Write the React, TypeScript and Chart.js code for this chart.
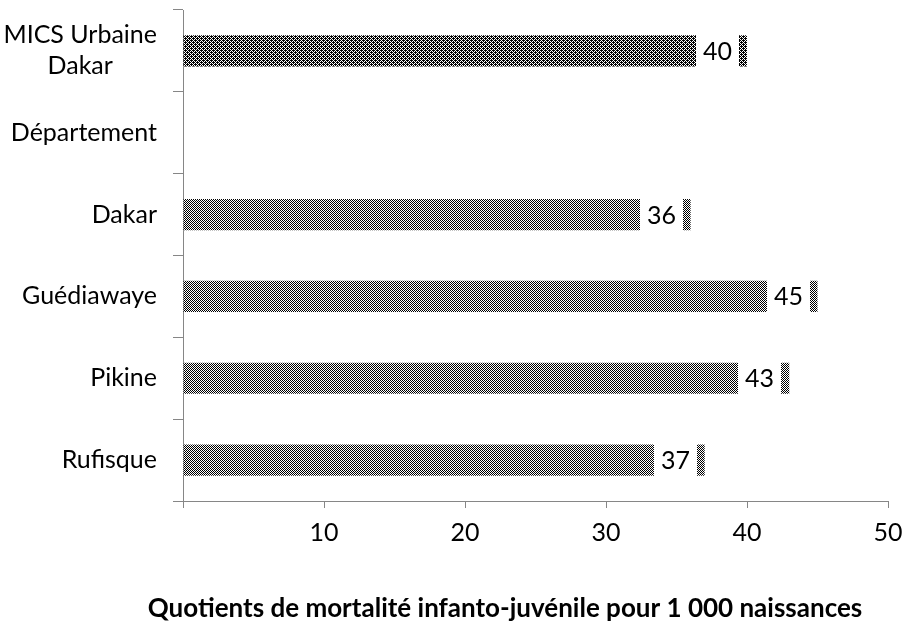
import React, { useEffect, useRef } from 'react';
import { Chart, registerables } from 'chart.js';

Chart.register(...registerables);

const categories: (string | string[])[] = [
  ['MICS Urbaine', 'Dakar'],
  'Département',
  'Dakar',
  'Guédiawaye',
  'Pikine',
  'Rufisque',
];
const values: (number | null)[] = [40, null, 36, 45, 43, 37];
const xMin = 0;
const xMax = 50;
const xStep = 10;
const xTitle = 'Quotients de mortalité infanto-juvénile pour 1 000 naissances';

const FONT = 'Lato';
const FS = 25;
const AXIS = '#868686';

function makePattern(ctx: CanvasRenderingContext2D, tile: number[][]) {
  const c = document.createElement('canvas');
  c.width = tile[0].length;
  c.height = tile.length;
  const g = c.getContext('2d')!;
  g.fillStyle = '#ffffff';
  g.fillRect(0, 0, c.width, c.height);
  g.fillStyle = '#000000';
  tile.forEach((row, yy) =>
    row.forEach((v, xx) => {
      if (v) g.fillRect(xx, yy, 1, 1);
    })
  );
  return ctx.createPattern(c, 'repeat')!;
}

const checker = [
  [1, 0],
  [0, 1],
];
const darkChecker = [
  [1, 0, 1, 1],
  [0, 1, 0, 1],
  [1, 1, 1, 0],
  [0, 1, 0, 1],
];

const yLabelPlugin = {
  id: 'yLabels',
  afterDraw(chart: any) {
    const { ctx, chartArea } = chart;
    const y = chart.scales.y;
    ctx.save();
    ctx.font = `${FS}px ${FONT}`;
    ctx.fillStyle = '#000';
    ctx.textBaseline = 'middle';
    ctx.textAlign = 'center';
    const right = chartArea.left - 26;
    const lh = 31;
    categories.forEach((lab, i) => {
      const lines = Array.isArray(lab) ? lab : [lab];
      const widest = Math.max(...lines.map((l) => ctx.measureText(l).width));
      const cx = right - widest / 2;
      const yc = y.getPixelForValue(i);
      lines.forEach((l, k) => {
        ctx.fillText(l, cx, yc + (k - (lines.length - 1) / 2) * lh);
      });
    });
    ctx.restore();
  },
};

const dataLabelPlugin = {
  id: 'dataLabels',
  afterDatasetsDraw(chart: any) {
    const { ctx } = chart;
    const meta = chart.getDatasetMeta(0);
    ctx.save();
    ctx.font = `${FS}px ${FONT}`;
    ctx.textAlign = 'center';
    ctx.textBaseline = 'middle';
    meta.data.forEach((bar: any, i: number) => {
      const v = values[i];
      if (v == null) return;
      const { x, y, height } = bar.getProps(['x', 'y', 'height'], true);
      const bx = Math.round(x - 51);
      ctx.fillStyle = '#ffffff';
      ctx.fillRect(bx, y - height / 2 - 1, 43, height + 2);
      ctx.fillStyle = '#000000';
      ctx.fillText(String(v), bx + 21.5, y + 1);
    });
    ctx.restore();
  },
};

const titlePlugin = {
  id: 'xTitle',
  afterDraw(chart: any) {
    const { ctx } = chart;
    ctx.save();
    ctx.font = `bold 26px ${FONT}`;
    ctx.fillStyle = '#000';
    ctx.textAlign = 'center';
    ctx.textBaseline = 'middle';
    ctx.fillText(xTitle, 505, 609);
    ctx.restore();
  },
};

export default function App() {
  const ref = useRef<HTMLCanvasElement | null>(null);

  useEffect(() => {
    document.body.style.margin = '0';
    const canvas = ref.current!;
    const ctx = canvas.getContext('2d')!;
    const pLight = makePattern(ctx, checker);
    const pDark = makePattern(ctx, darkChecker);

    const chart = new Chart(canvas, {
      type: 'bar',
      data: {
        labels: categories as any,
        datasets: [
          {
            data: values as any,
            backgroundColor: values.map((_, i) => (i === 0 ? pDark : pLight)) as any,
            borderWidth: 0,
            categoryPercentage: 1,
            barPercentage: 0.38,
          },
        ],
      },
      options: {
        indexAxis: 'y',
        animation: false,
        responsive: false,
        layout: { padding: { top: 10, right: 18, left: 0, bottom: 0 } },
        plugins: {
          legend: { display: false },
          tooltip: { enabled: false },
          title: { display: false },
        },
        scales: {
          x: {
            type: 'linear',
            min: xMin,
            max: xMax,
            afterFit: (s: any) => {
              s.height = 133;
              s.paddingRight = 0;
              s.paddingLeft = 0;
            },
            ticks: {
              stepSize: xStep,
              color: '#000',
              font: { family: FONT, size: FS },
              padding: 10,
              callback: (v: any) => (v === 0 ? '' : String(v)),
            },
            grid: {
              drawOnChartArea: false,
              drawTicks: true,
              tickLength: 7,
              color: AXIS,
            },
            border: { color: AXIS, width: 1 },
          },
          y: {
            type: 'category',
            offset: true,
            afterFit: (s: any) => {
              s.width = 183;
            },
            ticks: { display: false },
            grid: {
              offset: true,
              drawOnChartArea: false,
              drawTicks: true,
              tickLength: 10,
              color: AXIS,
            },
            border: { color: AXIS, width: 1 },
          },
        },
      },
      plugins: [dataLabelPlugin, yLabelPlugin, titlePlugin],
    });
    return () => chart.destroy();
  }, []);

  return (
    <div style={{ width: 906, height: 634 }}>
      <canvas ref={ref} width={906} height={634} />
    </div>
  );
}
